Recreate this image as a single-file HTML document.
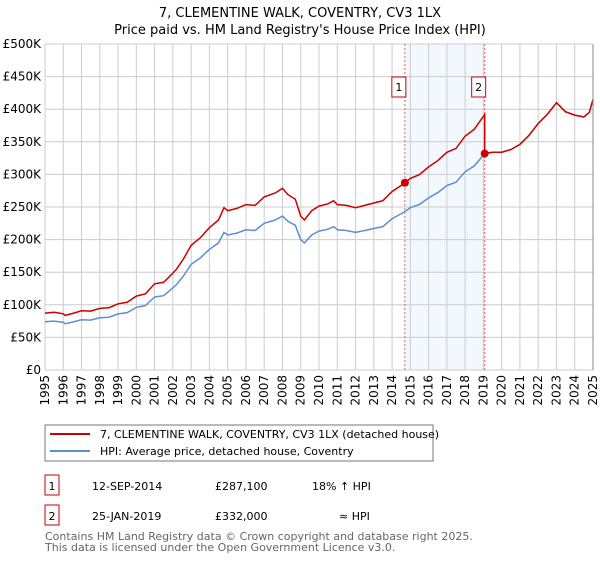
<!DOCTYPE html>
<html><head><meta charset="utf-8"><style>
body{margin:0;background:#fff}
svg text{font-family:"DejaVu Sans","Liberation Sans",sans-serif}
</style></head><body>
<svg id="c" width="600" height="560" xmlns="http://www.w3.org/2000/svg">
<text x="300" y="17" font-size="13" text-anchor="middle">7, CLEMENTINE WALK, COVENTRY, CV3 1LX</text>
<text x="300" y="34" font-size="13" text-anchor="middle">Price paid vs. HM Land Registry's House Price Index (HPI)</text>
<g id="plot"></g>
<g>
<rect x="45" y="425" width="388" height="36" fill="#fff" stroke="#777"/>
<line x1="50" y1="434" x2="90" y2="434" stroke="#cc0000" stroke-width="2"/>
<text x="100" y="438" font-size="11">7, CLEMENTINE WALK, COVENTRY, CV3 1LX (detached house)</text>
<line x1="50" y1="451" x2="90" y2="451" stroke="#5b8fd4" stroke-width="2"/>
<text x="100" y="455" font-size="11">HPI: Average price, detached house, Coventry</text>
</g>
<g font-size="11">
<rect x="45" y="475" width="14" height="20" fill="none" stroke="#cc0000"/>
<text x="52" y="490" text-anchor="middle">1</text>
<text x="92" y="490">12-SEP-2014</text>
<text x="215" y="490">£287,100</text>
<text x="312" y="490">18% ↑ HPI</text>
<rect x="45" y="505" width="14" height="20" fill="none" stroke="#cc0000"/>
<text x="52" y="520" text-anchor="middle">2</text>
<text x="92" y="520">25-JAN-2019</text>
<text x="215" y="520">£332,000</text>
<text x="339" y="520">≈ HPI</text>
</g>
<text x="45" y="540" font-size="11" fill="#666">Contains HM Land Registry data © Crown copyright and database right 2025.</text>
<text x="45" y="551" font-size="11" fill="#666">This data is licensed under the Open Government Licence v3.0.</text>
</svg>
<script>
const hpiYears=[1995,1995.5,1996,1996.1,1996.5,1997,1997.5,1998,1998.5,1999,1999.5,2000,2000.5,2001,2001.5,2002,2002.2,2002.6,2003,2003.5,2004,2004.5,2004.8,2005,2005.5,2006,2006.5,2007,2007.6,2008,2008.3,2008.7,2009,2009.2,2009.6,2010,2010.5,2010.8,2011,2011.5,2012,2012.5,2013,2013.5,2014,2014.7,2015,2015.5,2016,2016.5,2017,2017.5,2018,2018.5,2019.07,2019.5,2020,2020.5,2021,2021.5,2022,2022.5,2023,2023.5,2024,2024.5,2024.8,2025];
const hpiValues=[74000,75000,73000,71000,73500,77000,76500,80000,81000,86000,88000,96000,99000,112000,114000,126000,131000,145000,162000,172000,185000,195000,211000,207000,210000,215000,214000,225000,230000,236000,228000,222000,200000,195000,207000,213000,216000,220000,215000,214000,211000,214000,217000,220000,232000,243000,249000,254000,264000,272000,283000,288000,304000,313000,332000,334000,334000,338000,346000,360000,378000,392000,410000,396000,391000,388000,395000,415000];
const sale1={year:2014.7,price:287100,label:"1"};
const sale2={year:2019.07,price:332000,label:"2"};
const yTicks=[0,50000,100000,150000,200000,250000,300000,350000,400000,450000,500000];
const yTickLabels=["£0","£50K","£100K","£150K","£200K","£250K","£300K","£350K","£400K","£450K","£500K"];
const xTicks=[1995,1996,1997,1998,1999,2000,2001,2002,2003,2004,2005,2006,2007,2008,2009,2010,2011,2012,2013,2014,2015,2016,2017,2018,2019,2020,2021,2022,2023,2024,2025];

const L=45,R=593,T=44,B=370,NS="http://www.w3.org/2000/svg";
const xs=y=>L+(y-1995)/30*(R-L);
const ys=v=>B-v/500000*(B-T);
const g=document.getElementById('plot');
function mk(t,a,p){const e=document.createElementNS(NS,t);for(const k in a)e.setAttribute(k,a[k]);(p||g).appendChild(e);return e;}
let e=mk('rect',{x:xs(sale1.year),y:T,width:xs(sale2.year)-xs(sale1.year),height:B-T,fill:'#eef3fd',opacity:0.7});


yTicks.forEach((v,i)=>{
 let l=mk('line',{x1:L,x2:R,y1:ys(v),y2:ys(v),stroke:'#ccc'});
 
 
 let t=mk('text',{x:L-4,y:ys(v)+4,'font-size':12,'text-anchor':'end'});t.textContent=yTickLabels[i];
 
 
});
xTicks.forEach(yr=>{
 let l=mk('line',{x1:xs(yr),x2:xs(yr),y1:T,y2:B,stroke:'#ccc'});
 
 
 let t=mk('text',{x:0,y:0,'font-size':12,'text-anchor':'end',transform:`translate(${xs(yr)+4},${B+5}) rotate(-90)`});t.textContent=yr;
 
 
});
[sale1,sale2].forEach(s=>{
 let l=mk('line',{x1:xs(s.year),x2:xs(s.year),y1:T,y2:B,stroke:'#e06060','stroke-dasharray':'2,2'});
 
 
});
const f1=sale1.price/243300;
function hpiAt(yr){for(let i=1;i<hpiYears.length;i++){if(yr<=hpiYears[i]){const a=hpiYears[i-1],b=hpiYears[i];return hpiValues[i-1]+(hpiValues[i]-hpiValues[i-1])*(yr-a)/(b-a);}}return hpiValues[hpiValues.length-1];}
const f2=sale2.price/hpiAt(sale2.year);
let bp=hpiYears.map((yr,i)=>`${xs(yr).toFixed(1)},${ys(hpiValues[i]).toFixed(1)}`).join(' ');
e=mk('polyline',{points:bp,fill:'none',stroke:'#5b8fd4','stroke-width':1.5});


let rp=[];
hpiYears.forEach((yr,i)=>{if(yr<sale2.year)rp.push([yr,hpiValues[i]*f1]);});
rp.push([sale2.year,hpiAt(sale2.year)*f1]);
rp.push([sale2.year,sale2.price]);
hpiYears.forEach((yr,i)=>{if(yr>sale2.year)rp.push([yr,hpiValues[i]*f2]);});
e=mk('polyline',{points:rp.map(p=>`${xs(p[0]).toFixed(1)},${ys(p[1]).toFixed(1)}`).join(' '),fill:'none',stroke:'#cc0000','stroke-width':1.5});


[sale1,sale2].forEach(s=>{
 let c=mk('circle',{cx:xs(s.year),cy:ys(s.price),r:4,fill:'#cc0000'});
 
 
 let r=mk('rect',{x:xs(s.year)-13,y:77,width:14,height:20,fill:'#fff',stroke:'#cc0000'});
 
 
 let t=mk('text',{x:xs(s.year)-6,y:91,'font-size':11,'text-anchor':'middle'});t.textContent=s.label;
 
 
});
e=mk('line',{x1:R,x2:R,y1:T,y2:B,stroke:'#888'});


</script>
</body></html>
